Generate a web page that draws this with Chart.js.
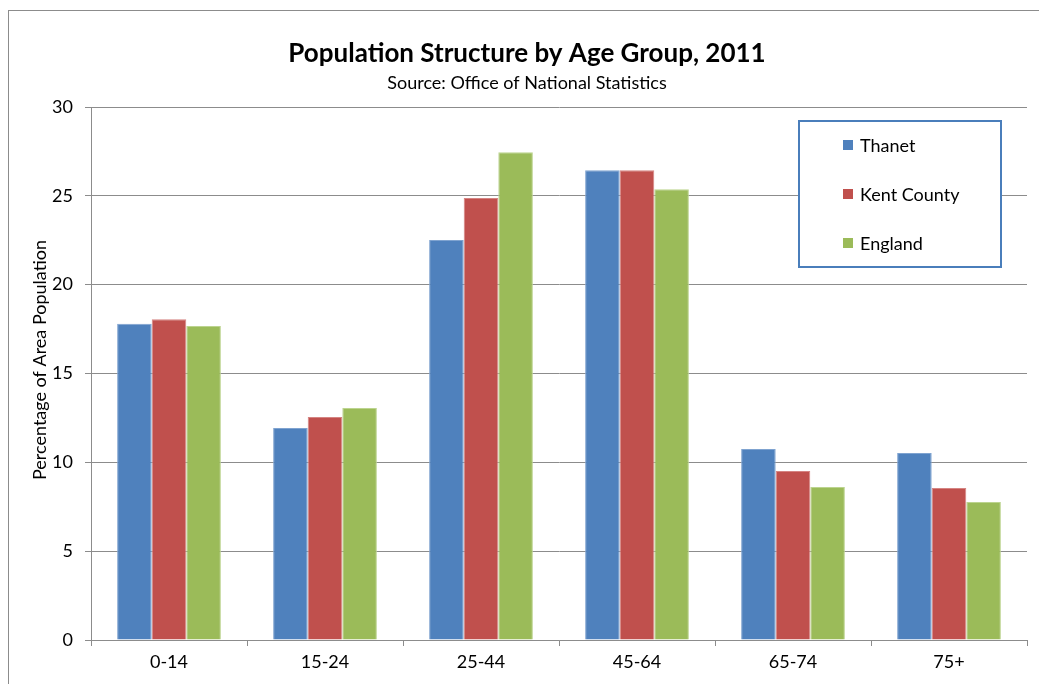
<!DOCTYPE html>
<html>
<head>
<meta charset="utf-8">
<script src="https://cdn.jsdelivr.net/npm/chart.js@4/dist/chart.umd.min.js"></script>
<style>
  html, body { margin: 0; padding: 0; background: #fff; }
  #wrap { width: 1039px; height: 684px; position: relative; }
</style>
</head>
<body>
<div id="wrap"><canvas id="c"></canvas></div>
<script>
  // data
  const ageGroups = ["0-14", "15-24", "25-44", "45-64", "65-74", "75+"];
  const thanet = [17.8, 11.93, 22.51, 26.44, 10.75, 10.52];
  const kentCounty = [18.05, 12.55, 24.88, 26.44, 9.51, 8.55];
  const england = [17.67, 13.06, 27.45, 25.37, 8.61, 7.77];
  const yTicks = [0, 5, 10, 15, 20, 25, 30];

  const FONT = "Lato, 'Open Sans', sans-serif";
  const GRID = "#8c8c8c";

  // frame, title, y-axis title and the boxed legend
  const decor = {
    id: "decor",
    beforeDraw(chart) {
      const ctx = chart.ctx;
      ctx.save();
      ctx.strokeStyle = GRID;
      ctx.lineWidth = 1;
      ctx.strokeRect(8.5, 10.5, 1100, 800);
      ctx.restore();
    },
    afterDraw(chart) {
      const ctx = chart.ctx;
      ctx.save();
      ctx.fillStyle = "#000";
      ctx.textAlign = "center";
      ctx.textBaseline = "middle";
      ctx.font = "bold 26px " + FONT;
      ctx.fillText("Population Structure by Age Group, 2011", 527, 54);
      ctx.font = "18px " + FONT;
      ctx.fillText("Source: Office of National Statistics", 527, 83);

      ctx.save();
      ctx.translate(40, 360);
      ctx.rotate(-Math.PI / 2);
      ctx.font = "18px " + FONT;
      ctx.fillText("Percentage of Area Population", 0, 0);
      ctx.restore();

      // legend
      ctx.fillStyle = "#fff";
      ctx.fillRect(799, 121, 202, 146);
      ctx.strokeStyle = "#4a7ebb";
      ctx.lineWidth = 2;
      ctx.strokeRect(799, 121, 202, 146);
      ctx.textAlign = "left";
      ctx.font = "18px " + FONT;
      chart.data.datasets.forEach((ds, i) => {
        const y = 145 + i * 49;
        ctx.fillStyle = ds.backgroundColor;
        ctx.fillRect(843, y - 5, 10, 10);
        ctx.fillStyle = "#000";
        ctx.fillText(ds.label, 860, y + 1);
      });
      ctx.restore();
    }
  };

  function bars(label, data, color, edge) {
    return {
      label: label,
      data: data,
      backgroundColor: color,
      borderColor: edge,
      borderWidth: 1,
      categoryPercentage: 0.665,
      barPercentage: 1
    };
  }

  new Chart(document.getElementById("c"), {
    type: "bar",
    data: {
      labels: ageGroups,
      datasets: [
        bars("Thanet", thanet, "#4f81bd", "#7fa3d0"),
        bars("Kent County", kentCounty, "#c0504d", "#d58482"),
        bars("England", england, "#9bbb59", "#bcd48f")
      ]
    },
    options: {
      responsive: true,
      maintainAspectRatio: false,
      animation: false,
      layout: { padding: { top: 107, left: 0, right: 12, bottom: 0 } },
      plugins: {
        legend: { display: false },
        tooltip: { enabled: false }
      },
      scales: {
        x: {
          afterFit(s) { s.height = 44; },
          grid: {
            offset: true,
            drawOnChartArea: false,
            color: GRID,
            tickLength: 6
          },
          border: { color: GRID },
          ticks: {
            color: "#000",
            font: { family: FONT, size: 18 },
            padding: 5,
            maxRotation: 0
          }
        },
        y: {
          min: 0,
          max: 30,
          afterFit(s) { s.width = 91; },
          afterBuildTicks(s) { s.ticks = yTicks.map(v => ({ value: v })); },
          grid: { color: GRID, tickLength: 6 },
          border: { color: GRID },
          ticks: {
            color: "#000",
            font: { family: FONT, size: 18 },
            padding: 12
          }
        }
      }
    },
    plugins: [decor]
  });
</script>
</body>
</html>
